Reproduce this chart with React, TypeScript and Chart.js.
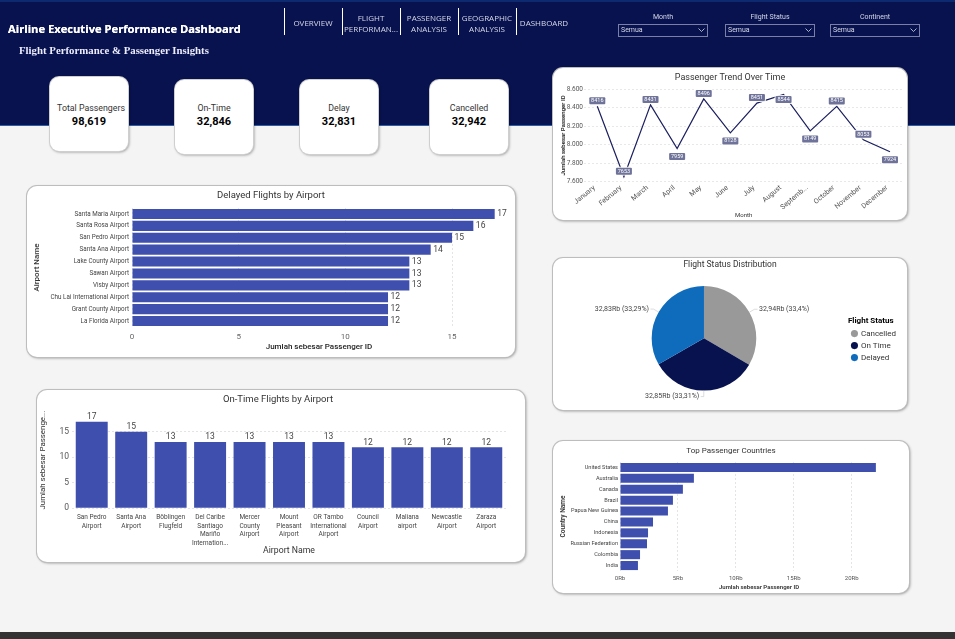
import React, { useEffect, useRef } from "react";
import { Chart, registerables } from "chart.js";

Chart.register(...registerables);

const delayedAirports = ["Santa Maria Airport", "Santa Rosa Airport", "San Pedro Airport", "Santa Ana Airport", "Lake County Airport", "Sawan Airport", "Visby Airport", "Chu Lai International Airport", "Grant County Airport", "La Florida Airport"];
const delayedCounts = [17, 16, 15, 14, 13, 13, 13, 12, 12, 12];
const delayedTicks = [0, 5, 10, 15];

const onTimeAirports = [["San Pedro", "Airport"], ["Santa Ana", "Airport"], ["Böblingen", "Flugfeld"], ["Del Caribe", "Santiago", "Mariño", "Internation..."], ["Mercer", "County", "Airport"], ["Mount", "Pleasant", "Airport"], ["OR Tambo", "International", "Airport"], ["Council", "Airport"], ["Maliana", "airport"], ["Newcastle", "Airport"], ["Zaraza", "Airport"]];
const onTimeCounts = [17, 15, 13, 13, 13, 13, 13, 12, 12, 12, 12];
const onTimeTicks = [0, 5, 10, 15];

const months = ["January", "February", "March", "April", "May", "June", "July", "August", "Septemb...", "October", "November", "December"];
const monthlyPassengers = [8416, 7653, 8431, 7959, 8496, 8128, 8451, 8544, 8149, 8415, 8053, 7924];

const statusLabels = ["Cancelled", "On Time", "Delayed"];
const statusValues = [32942, 32846, 32831];
const statusColors = ["#999999", "#08124f", "#0f6cbd"];

const countries = ["United States", "Australia", "Canada", "Brazil", "Papua New Guinea", "China", "Indonesia", "Russian Federation", "Colombia", "India"];
const countryPassengers = [22090, 6380, 5430, 4570, 4140, 2850, 2420, 2330, 1730, 1550];
const countryTicks = [0, 5000, 10000, 15000, 20000];

const kpiCards = [
  { label: "Total Passengers", value: "98,619", left: 50, top: 77, shift: 2 },
  { label: "On-Time", value: "32,846", left: 175, top: 80, shift: 0 },
  { label: "Delay", value: "32,831", left: 300, top: 80, shift: 0 },
  { label: "Cancelled", value: "32,942", left: 430, top: 80, shift: 0 },
];
const navItems = [
  { lines: ["OVERVIEW"], left: 284 },
  { lines: ["FLIGHT", "PERFORMAN..."], left: 342 },
  { lines: ["PASSENGER", "ANALYSIS"], left: 400 },
  { lines: ["GEOGRAPHIC", "ANALYSIS"], left: 458 },
  { lines: ["DASHBOARD"], left: 516 },
];
const slicers = [
  { label: "Month", left: 618 },
  { label: "Flight Status", left: 725 },
  { label: "Continent", left: 830 },
];

const LABEL_FONT = "Roboto, sans-serif";
const DIN_FONT = "Roboto, sans-serif";
const BAR_COLOR = "#3f4fae";
const NAVY = "#08124f";
const GRID = { color: "#e4e4e4", drawTicks: false };
const NO_GRID = { display: false, drawTicks: false };
const BORDER = { display: false, dash: [2, 2] };
const GRAY_TEXT: React.CSSProperties = { opacity: 0.999, willChange: "opacity" };

const axisTitle = (text: string, size: number, fromEdge: number, weight: string | number = "normal", color = "#333") => {
  const lh = size * 1.2;
  const p = fromEdge - lh / 2;
  return { display: true, text, color, font: { family: DIN_FONT, size, weight }, padding: { top: p, bottom: p } };
};
const chartTitle = (text: string, size: number, center: number, plotTop: number) => {
  const lh = size * 1.2;
  const top = center - lh / 2;
  return { display: true, text, color: "#333", font: { family: DIN_FONT, size, weight: "normal" }, padding: { top, bottom: plotTop - top - lh } };
};
const pin = (v: number, key: "width" | "height") => (s: any) => { s[key] = v; };
const fixTicks = (values: number[]) => (s: any) => { s.ticks = values.map((value) => ({ value })); };

const centerTitle = (shift = 0) => ({
  id: "centerTitle",
  afterLayout(chart: any) {
    if (chart.titleBlock) { chart.titleBlock.left = 0; chart.titleBlock.right = chart.width + shift; }
  },
});

const barValueLabels = (size: number) => ({
  id: "barValueLabels",
  afterDatasetsDraw(chart: any) {
    const { ctx } = chart;
    const horizontal = chart.options.indexAxis === "y";
    ctx.save();
    ctx.fillStyle = "#444";
    ctx.font = `${size}px ${DIN_FONT}`;
    chart.getDatasetMeta(0).data.forEach((el: any, i: number) => {
      const t = String(chart.data.datasets[0].data[i]);
      if (horizontal) {
        ctx.textAlign = "left"; ctx.textBaseline = "middle";
        ctx.fillText(t, el.x + 2.5, el.y);
      } else {
        ctx.textAlign = "center"; ctx.textBaseline = "bottom";
        ctx.fillText(t, el.x, el.y - 0.5);
      }
    });
    ctx.restore();
  },
});

const trendLabels = {
  id: "trendLabels",
  afterDatasetsDraw(chart: any) {
    const { ctx } = chart;
    const below = new Set(["April", "June", "August", "Septemb...", "December"]);
    ctx.save();
    ctx.font = `5.5px ${DIN_FONT}`;
    ctx.textAlign = "center";
    ctx.textBaseline = "middle";
    chart.getDatasetMeta(0).data.forEach((el: any, i: number) => {
      const name = chart.data.labels[i];
      const isBelow = below.has(name);
      const dy = isBelow ? (name === "August" ? 5 : 8) : -5.5;
      const y = el.y + dy;
      ctx.beginPath();
      ctx.roundRect(el.x - 9, y - 4.5, 18, 9, 1.5);
      ctx.fillStyle = "rgba(255,255,255,0.85)";
      ctx.fill();
      ctx.beginPath();
      ctx.roundRect(el.x - 8, y - 3.5, 16, 7, 1);
      ctx.fillStyle = "#6f7399";
      ctx.fill();
      ctx.fillStyle = "#fff";
      ctx.fillText(String(chart.data.datasets[0].data[i]), el.x, y);
    });
    ctx.restore();
  },
};

const sliceLabels = {
  id: "sliceLabels",
  afterDatasetsDraw(chart: any) {
    const { ctx } = chart;
    const data: number[] = chart.data.datasets[0].data;
    const total = data.reduce((a, b) => a + b, 0);
    ctx.save();
    ctx.font = `7px ${LABEL_FONT}`;
    ctx.textBaseline = "middle";
    chart.getDatasetMeta(0).data.forEach((el: any, i: number) => {
      const mid = (el.startAngle + el.endAngle) / 2;
      const cos = Math.cos(mid), sin = Math.sin(mid);
      const x0 = el.x + cos * el.outerRadius, y0 = el.y + sin * el.outerRadius;
      const x1 = el.x + cos * (el.outerRadius + 6), y1 = el.y + sin * (el.outerRadius + 6);
      const sideways = Math.abs(cos) > 0.2;
      const dir = sideways ? Math.sign(cos) : -1;
      const x2 = x1 + dir * 3;
      ctx.strokeStyle = "#cfcfcf";
      ctx.lineWidth = 0.7;
      ctx.beginPath(); ctx.moveTo(x0, y0); ctx.lineTo(x1, y1); ctx.lineTo(x2, y1); ctx.stroke();
      const amount = (data[i] / 1000).toFixed(2).replace(".", ",") + "Rb";
      const pct = String(parseFloat(((data[i] / total) * 100).toFixed(2))).replace(".", ",");
      ctx.fillStyle = "#444";
      ctx.textAlign = dir > 0 ? "left" : "right";
      ctx.fillText(`${amount} (${pct}%)`, x2 + dir * 1.5, y1);
    });
    ctx.restore();
  },
};

const placeLegend = {
  id: "placeLegend",
  afterLayout(chart: any) {
    if (chart.legend) { chart.legend.top = 59; chart.legend.bottom = 110; }
  },
};

const delayedConfig = (): any => ({
  type: "bar",
  data: { labels: delayedAirports, datasets: [{ data: delayedCounts, backgroundColor: BAR_COLOR, barPercentage: 0.85, categoryPercentage: 1 }] },
  plugins: [barValueLabels(8.5), centerTitle()],
  options: {
    indexAxis: "y", animation: false, responsive: false,
    layout: { autoPadding: false, padding: { right: 9 } },
    plugins: { legend: { display: false }, tooltip: { enabled: false }, title: chartTitle("Delayed Flights by Airport", 9.5, 10, 22) },
    scales: {
      x: {
        min: 0, max: 17.53, afterFit: pin(30, "height"), afterBuildTicks: fixTicks(delayedTicks), border: BORDER,
        grid: GRID, ticks: { padding: 5, color: "#666", font: { family: DIN_FONT, size: 8 } },
        title: axisTitle("Jumlah sebesar Passenger ID", 8, 9.7, 500, "#222"),
      },
      y: {
        afterFit: pin(105, "width"), border: BORDER, grid: NO_GRID,
        ticks: { autoSkip: false, padding: 3, color: "#444", font: { family: LABEL_FONT, size: 6.3 } },
        title: axisTitle("Airport Name", 8, 10, 500),
      },
    },
  },
});

const onTimeConfig = (): any => ({
  type: "bar",
  data: { labels: onTimeAirports, datasets: [{ data: onTimeCounts, backgroundColor: BAR_COLOR, barPercentage: 0.81, categoryPercentage: 1 }] },
  plugins: [barValueLabels(8.5), centerTitle(-6)],
  options: {
    animation: false, responsive: false,
    layout: { autoPadding: false, padding: { right: 19 } },
    plugins: { legend: { display: false }, tooltip: { enabled: false }, title: chartTitle("On-Time Flights by Airport", 9.5, 9.7, 22) },
    scales: {
      x: {
        afterFit: pin(53.7, "height"), border: BORDER, grid: NO_GRID,
        ticks: { autoSkip: false, maxRotation: 0, minRotation: 0, padding: 5, color: "#444", font: { family: LABEL_FONT, size: 6.5, lineHeight: 1.3 } },
        title: axisTitle("Airport Name", 8.7, 11),
      },
      y: {
        min: 0, max: 18.9, afterFit: pin(35, "width"), afterBuildTicks: fixTicks(onTimeTicks), border: BORDER,
        grid: GRID, ticks: { padding: 3, color: "#555", font: { family: DIN_FONT, size: 8.5 } },
        title: axisTitle("Jumlah sebesar Passenge...", 7.9, 6.3),
      },
    },
  },
});

const trendConfig = (): any => ({
  type: "line",
  data: { labels: months, datasets: [{ data: monthlyPassengers, borderColor: "#1b1f5f", borderWidth: 1.2, pointRadius: 0, tension: 0 }] },
  plugins: [trendLabels, centerTitle()],
  options: {
    animation: false, responsive: false,
    layout: { autoPadding: false, padding: { right: 3.7 } },
    plugins: { legend: { display: false }, tooltip: { enabled: false }, title: chartTitle("Passenger Trend Over Time", 9, 10, 21.3) },
    scales: {
      x: {
        offset: true, afterFit: pin(38.3, "height"), border: BORDER, grid: NO_GRID,
        ticks: { autoSkip: false, minRotation: 40, maxRotation: 40, padding: 2, labelOffset: -3, color: "#555", font: { family: DIN_FONT, size: 7 } },
        title: axisTitle("Month", 6, 5, "normal", "#333"),
      },
      y: {
        min: 7600, max: 8600, afterFit: pin(31, "width"), border: BORDER,
        grid: { ...GRID, color: "#e8e8e8" }, ticks: { stepSize: 200, padding: 1, color: "#555", font: { family: DIN_FONT, size: 6.5 }, callback: (v: number) => String(v).replace(/(\d)(\d{3})$/, "$1.$2") },
        title: axisTitle("Jumlah sebesar Passenger ID", 6, 10, 600, "#222"),
      },
    },
  },
});

const pieConfig = (): any => ({
  type: "pie",
  data: { labels: statusLabels, datasets: [{ data: statusValues, backgroundColor: statusColors, borderWidth: 0 }] },
  plugins: [sliceLabels, centerTitle(), placeLegend],
  options: {
    animation: false, responsive: false,
    layout: { autoPadding: false, padding: { left: 7, right: 1, bottom: 19.4 } },
    plugins: {
      tooltip: { enabled: false },
      title: chartTitle("Flight Status Distribution", 8.5, 7.3, 28),
      legend: {
        position: "right", align: "start",
        title: { display: true, text: "Flight Status", position: "start", color: "#000", font: { family: LABEL_FONT, size: 8, weight: "bold" }, padding: { top: 0, bottom: -1 } },
        labels: { usePointStyle: true, pointStyle: "circle", boxWidth: 5, boxHeight: 5, padding: 4, color: "#333", font: { family: LABEL_FONT, size: 8 } },
      },
    },
  },
});

const countryConfig = (): any => ({
  type: "bar",
  data: { labels: countries, datasets: [{ data: countryPassengers, backgroundColor: BAR_COLOR, barPercentage: 0.83, categoryPercentage: 1 }] },
  plugins: [centerTitle()],
  options: {
    indexAxis: "y", animation: false, responsive: false,
    layout: { autoPadding: false, padding: { right: 11 } },
    plugins: { legend: { display: false }, tooltip: { enabled: false }, title: chartTitle("Top Passenger Countries", 8, 10.3, 21) },
    scales: {
      x: {
        min: 0, max: 24000, afterFit: pin(22, "height"), afterBuildTicks: fixTicks(countryTicks), border: BORDER, grid: GRID,
        ticks: { padding: 4, color: "#555", font: { family: DIN_FONT, size: 6 }, callback: (v: number) => v / 1000 + "Rb" },
        title: axisTitle("Jumlah sebesar Passenger ID", 6, 6, 600, "#333"),
      },
      y: {
        afterFit: pin(67, "width"), border: BORDER, grid: NO_GRID,
        ticks: { autoSkip: false, padding: 2, color: "#444", font: { family: LABEL_FONT, size: 5.6 } },
        title: axisTitle("Country Name", 6.5, 10, 600, "#333"),
      },
    },
  },
});

function ChartCard({ left, top, width, height, make }: any) {
  const ref = useRef<HTMLCanvasElement>(null);
  useEffect(() => {
    const chart = new Chart(ref.current as HTMLCanvasElement, make());
    return () => chart.destroy();
  }, [make]);
  return (
    <div style={{ position: "absolute", left, top, width, height, background: "#fff", borderRadius: 10, boxShadow: "0 0 0 1px #bdbdbd, 1px 1px 3px rgba(0,0,0,0.45)" }}>
      <canvas ref={ref} width={width} height={height} style={{ display: "block", width, height }} />
    </div>
  );
}

const text = (t: string, x: number, y: number, style: React.CSSProperties) => (
  <div key={t} style={{ position: "absolute", left: x, top: y, whiteSpace: "nowrap", lineHeight: 1, transform: "translateY(-50%)", ...GRAY_TEXT, ...style }}>{t}</div>
);

export default function App() {
  return (
    <div style={{ position: "absolute", left: 0, top: 0, width: 955, height: 639, overflow: "hidden", background: "#f4f4f4" }}>
      <div style={{ position: "absolute", left: 0, top: 0, width: 955, height: 126, boxSizing: "border-box", background: NAVY, borderTop: "2px solid #0d2a70", borderBottom: "1px solid #2a5fa8" }} />
      <div style={{ position: "absolute", left: 0, top: 632, width: 955, height: 7, background: "#333" }} />

      {text("Airline Executive Performance Dashboard", 8, 29, { color: "#fff", fontFamily: "'Open Sans', sans-serif", fontWeight: 700, fontSize: 11.2, textShadow: "0 0 0.5px #fff" })}
      {text("Flight Performance & Passenger Insights", 19, 50, { color: "#eef", fontFamily: "'Liberation Serif', serif", fontWeight: 700, fontSize: 10.8 })}

      {navItems.map((n) => (
        <div key={n.left}>
          <div style={{ position: "absolute", left: n.left, top: 8, width: 1, height: 27, background: "#fff" }} />
          <div style={{ position: "absolute", left: n.left, top: n.lines.length > 1 ? 11.5 : 16.5, width: n.lines[0] === "DASHBOARD" ? 56 : 58, textAlign: "center", color: "#d6d9e8", fontFamily: "'Open Sans', sans-serif", fontSize: 8, lineHeight: "11px", ...GRAY_TEXT }}>
            {n.lines.map((l) => <div key={l}>{l}</div>)}
          </div>
        </div>
      ))}

      {slicers.map((s) => (
        <div key={s.label}>
          <div style={{ position: "absolute", left: s.left, top: 13, width: 90, textAlign: "center", color: "#d6d9e8", fontFamily: DIN_FONT, fontSize: 7, lineHeight: "9px", ...GRAY_TEXT }}>{s.label}</div>
          <div style={{ position: "absolute", left: s.left, top: 24, width: 90, height: 13, boxSizing: "border-box", border: "1px solid #7b80a8", color: "#d6d9e8", fontFamily: DIN_FONT, fontSize: 7, lineHeight: "11px", paddingLeft: 2, ...GRAY_TEXT }}>Semua</div>
          <svg style={{ position: "absolute", left: s.left + 80, top: 28 }} width="7" height="5"><polyline points="0.5,0.5 3.5,3.5 6.5,0.5" fill="none" stroke="#d6d9e8" strokeWidth="0.8" /></svg>
        </div>
      ))}

      {kpiCards.map((k) => (
        <div key={k.label} style={{ position: "absolute", left: k.left, top: k.top, width: 78, height: 74, background: "#fff", borderRadius: 9, boxShadow: "0 0 0 1px #cfcfcf, 1px 1px 3px rgba(0,0,0,0.45)", textAlign: "center", fontFamily: DIN_FONT }}>
          <div style={{ position: "absolute", left: k.shift - 4, right: -k.shift - 4, top: 108 - k.top - 4.5, fontSize: 8.8, lineHeight: "9px", color: "#333" }}>{k.label}</div>
          <div style={{ position: "absolute", left: 0, right: 0, top: 121.5 - k.top - 6, fontSize: 11, lineHeight: "12px", fontWeight: 700, color: "#000" }}>{k.value}</div>
        </div>
      ))}

      <ChartCard left={553} top={68} width={354} height={152} make={trendConfig} />
      <ChartCard left={27} top={186} width={488} height={171} make={delayedConfig} />
      <ChartCard left={37} top={390} width={488} height={172} make={onTimeConfig} />
      <ChartCard left={553} top={258} width={354} height={152} make={pieConfig} />
      <ChartCard left={553} top={441} width={356} height={152} make={countryConfig} />
    </div>
  );
}
